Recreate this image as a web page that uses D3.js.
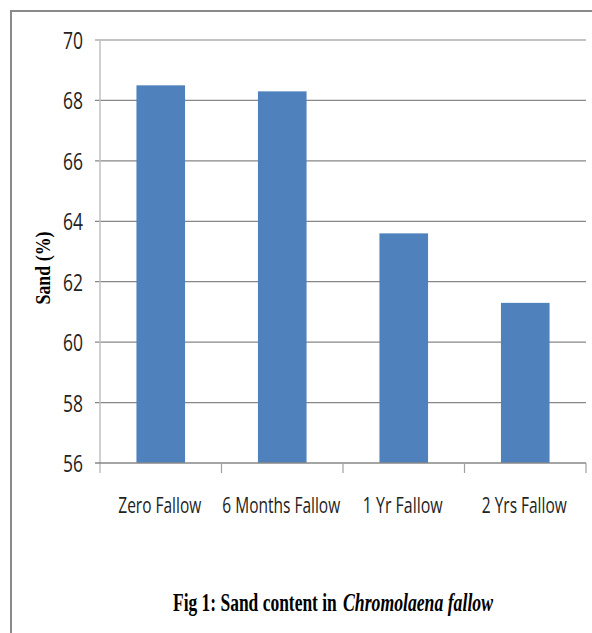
<!DOCTYPE html>
<html>
<head>
<meta charset="utf-8">
<script src="https://cdn.jsdelivr.net/npm/d3@7"></script>
<style>
  body { margin: 0; background: #fff; }
  svg { display: block; }
</style>
</head>
<body>
<svg id="chart" width="592" height="633"></svg>
<script>
// valores
const categories = ["Zero Fallow", "6 Months Fallow", "1 Yr Fallow", "2 Yrs Fallow"];
const sand = [68.5, 68.3, 63.6, 61.3];
const yTicks = [56, 58, 60, 62, 64, 66, 68, 70];

const svg = d3.select("#chart");
const W = 592, H = 633;
const m = { left: 100, right: 6, top: 40, bottom: 170 };

// comprime un texto en horizontal hasta el ancho w (fuente estrecha del original)
function squeeze(sel, w) {
  sel.each(function (d, i) {
    const t = d3.select(this);
    const target = typeof w === "function" ? w(d, i) : w;
    const len = this.getComputedTextLength();
    const ax = +t.attr("x"), ay = +t.attr("y");
    t.attr("x", 0).attr("y", 0)
     .attr("transform", `translate(${ax},${ay}) scale(${target / len},1)`);
  });
}

// marco exterior (solo arriba e izquierda visibles)
svg.append("path")
  .attr("d", `M11,${H} L11,11 L${W},11`)
  .attr("fill", "none").attr("stroke", "#8a8a8a").attr("stroke-width", 2);

const x = d3.scaleBand().domain(categories).range([m.left, W - m.right]).paddingInner(0.6).paddingOuter(0.3);
const y = d3.scaleLinear().domain([56, 70]).range([H - m.bottom, m.top]);

// rejilla
svg.append("g").selectAll("line").data(yTicks.filter(t => t !== 56)).join("line")
  .attr("x1", m.left - 5).attr("x2", W - m.right)
  .attr("y1", d => y(d)).attr("y2", d => y(d))
  .attr("stroke", "#878787").attr("stroke-width", 1.2);

// barras
svg.append("g").selectAll("rect").data(sand).join("rect")
  .attr("x", (d, i) => x(categories[i]))
  .attr("width", x.bandwidth())
  .attr("y", d => y(d))
  .attr("height", d => y(56) - y(d))
  .attr("fill", "#4f81bd");

// eje y
svg.append("line")
  .attr("x1", m.left).attr("x2", m.left)
  .attr("y1", y(70)).attr("y2", y(56) + 10)
  .attr("stroke", "#c0c0c0").attr("stroke-width", 1.5);

// eje x
const x0 = m.left, x1 = W - m.right;
svg.append("line")
  .attr("x1", m.left - 5).attr("x2", x1)
  .attr("y1", y(56)).attr("y2", y(56))
  .attr("stroke", "#878787").attr("stroke-width", 1.5);
const bounds = d3.range(categories.length + 1).map(i => x0 + (x1 - x0) * i / categories.length);
svg.append("g").selectAll("line").data(bounds.slice(1)).join("line")
  .attr("x1", d => d).attr("x2", d => d)
  .attr("y1", y(56)).attr("y2", y(56) + 10)
  .attr("stroke", "#a0a0a0").attr("stroke-width", 1.2);

// etiquetas eje y
svg.append("g").selectAll("text").data(yTicks).join("text")
  .attr("x", 83).attr("y", d => y(d) + 9)
  .attr("text-anchor", "end")
  .attr("font-family", "'Open Sans', Arial, sans-serif")
  .attr("font-size", 24)
  .attr("fill", "#222")
  .text(d => d)
  .call(squeeze, 20);

// etiquetas categorías
const catW = [83, 118, 80, 85];
svg.append("g").selectAll("text").data(categories).join("text")
  .attr("x", d => x(d) + x.bandwidth() / 2 - 1)
  .attr("y", 513)
  .attr("text-anchor", "middle")
  .attr("font-family", "'Open Sans', Arial, sans-serif")
  .attr("font-size", 21)
  .attr("fill", "#222")
  .text(d => d)
  .call(squeeze, (d, i) => catW[i]);

// título eje y
svg.append("text")
  .attr("transform", "translate(50,268) rotate(-90)")
  .attr("text-anchor", "middle")
  .attr("font-family", "'Liberation Serif', 'Times New Roman', serif")
  .attr("font-weight", "bold")
  .attr("font-size", 20)
  .attr("textLength", 73).attr("lengthAdjust", "spacingAndGlyphs")
  .text("Sand (%)");

// pie de figura
const capFont = "'Liberation Serif', 'Times New Roman', serif";
svg.append("text")
  .attr("x", 173).attr("y", 611)
  .attr("font-family", capFont).attr("font-weight", "bold").attr("font-size", 26)
  .text("Fig 1: Sand content in")
  .call(squeeze, 164);
svg.append("text")
  .attr("x", 343).attr("y", 611)
  .attr("font-family", capFont).attr("font-weight", "bold").attr("font-style", "italic").attr("font-size", 26)
  .text("Chromolaena fallow")
  .call(squeeze, 150);
</script>
</body>
</html>
